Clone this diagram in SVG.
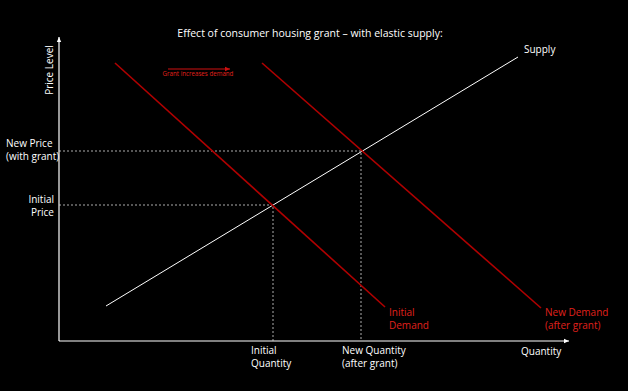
<svg xmlns="http://www.w3.org/2000/svg" width="628" height="391" viewBox="0 0 628 391">
<defs>
<style>
text{font-family:"Open Sans","Liberation Sans",sans-serif;font-size:10px;fill:#ffffff}
.red{fill:#e0201c}
.dash{stroke:#d8d8d8;stroke-width:0.8;stroke-dasharray:2,2;fill:none}
.dem{stroke:#b00000;stroke-width:1.6;fill:none}
</style>
<marker id="wa" markerWidth="6" markerHeight="6" refX="5" refY="3" orient="auto" markerUnits="userSpaceOnUse"><path d="M0,0.8 L5,3 L0,5.2 Z" fill="#ffffff"/></marker>
<marker id="ra" markerWidth="6" markerHeight="6" refX="5" refY="3" orient="auto" markerUnits="userSpaceOnUse"><path d="M0,0.8 L5,3 L0,5.2 Z" fill="#d01010"/></marker>
</defs>
<rect width="628" height="391" fill="#000000"/>
<text x="310" y="37" text-anchor="middle" style="font-size:10.5px">Effect of consumer housing grant – with elastic supply:</text>
<g id="connectors">
<line x1="59" y1="341" x2="59" y2="37" stroke="#ffffff" stroke-width="1.2" marker-end="url(#wa)"/>
<line x1="59" y1="341" x2="569" y2="341" stroke="#ffffff" stroke-width="1.2" marker-end="url(#wa)"/>
<path class="dash" d="M59,151 H361 V341"/>
<path class="dash" d="M59,205 H273 V341"/>
<line x1="106" y1="306" x2="518" y2="57" stroke="#ffffff" stroke-width="1"/>
<line class="dem" x1="115" y1="63" x2="385" y2="307"/>
<line class="dem" x1="262" y1="63" x2="541" y2="308"/>
<line x1="168" y1="69" x2="230" y2="69" stroke="#d01010" stroke-width="1.2" marker-end="url(#ra)"/>
</g>
<g id="axis-y"><text transform="translate(53,70) rotate(-90)" text-anchor="middle">Price Level</text></g>
<g id="axis-x"><text x="521" y="355">Quantity</text></g>
<g id="supply"><text x="524" y="53">Supply</text></g>
<g id="grant-label"><text x="198" y="76" text-anchor="middle" class="red" style="font-size:6.2px">Grant increases demand</text></g>
<g id="new-price"><text x="6" y="147">New Price</text><text x="6" y="160">(with grant)</text></g>
<g id="initial-price"><text x="54" y="203" text-anchor="end">Initial</text><text x="54" y="216" text-anchor="end">Price</text></g>
<g id="initial-quantity"><text x="251" y="354">Initial</text><text x="251" y="367">Quantity</text></g>
<g id="new-quantity"><text x="342" y="354">New Quantity</text><text x="342" y="367">(after grant)</text></g>
<g id="initial-demand"><text x="389" y="316" class="red">Initial</text><text x="389" y="329" class="red">Demand</text></g>
<g id="new-demand"><text x="545" y="316" class="red">New Demand</text><text x="545" y="329" class="red">(after grant)</text></g>
</svg>
